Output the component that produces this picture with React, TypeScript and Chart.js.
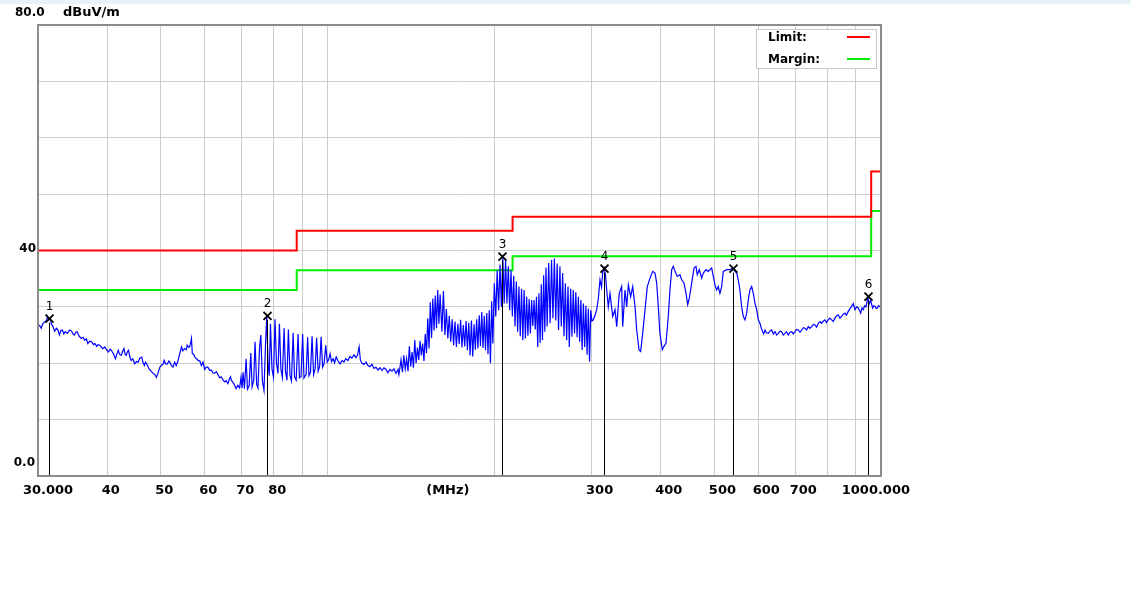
import React, { useEffect, useRef } from 'react';
import { Chart, registerables } from 'chart.js';

Chart.register(...registerables);

// ---- data (MHz / dBuV/m), by sweep segment ----
const freqs30to69 = [
  30.0, 30.2, 30.4, 30.6, 30.8, 31.1, 31.2, 31.4, 31.6, 31.7, 31.9, 32.15, 32.4, 32.6, 32.8, 33.0, 33.2, 33.4, 33.6, 33.9,
  34.2, 34.5, 34.7, 34.9, 35.1, 35.3, 35.6, 35.9, 36.2, 36.4, 36.7, 36.9, 37.2, 37.5, 37.8, 38.0, 38.3, 38.5, 38.8, 39.1,
  39.3, 39.6, 39.9, 40.2, 40.5, 40.7, 41.1, 41.4, 41.7, 41.9, 42.1, 42.4, 42.7, 42.9, 43.1, 43.3, 43.5, 43.7, 44.0, 44.2,
  44.5, 44.85, 45.2, 45.5, 45.8, 46.2, 46.4, 46.7, 46.9, 47.2, 47.5, 47.8, 48.1, 48.4, 48.75, 49.1, 49.4, 49.8, 50.1, 50.5,
  50.7, 51.0, 51.4, 51.7, 51.9, 52.25, 52.6, 52.97, 53.3, 53.7, 54.1, 54.5, 54.8, 55.2, 55.6, 55.8, 56.2, 56.4, 56.6, 56.8,
  57.0, 57.3, 57.6, 58.0, 58.4, 58.8, 59.2, 59.6, 60.0, 60.4, 60.8, 61.3, 61.7, 62.1, 62.5, 63.0, 63.4, 63.9, 64.3, 64.8,
  65.2, 65.6, 66.1, 66.5, 66.8, 67.1, 67.4, 67.9, 68.4, 68.9, 69.4,
];
const levels30to69 = [
  26.6, 26.7, 26.2, 27.0, 27.3, 27.6, 28.3, 27.7, 27.9, 27.0, 26.6, 25.7, 26.2, 25.9, 25.0, 25.8, 25.9, 25.2, 25.6, 25.3,
  25.9, 25.7, 25.2, 25.0, 25.5, 25.6, 24.8, 24.4, 24.6, 24.1, 24.3, 23.5, 23.9, 23.8, 23.3, 23.5, 23.0, 23.3, 23.2, 22.8,
  22.6, 22.9, 22.4, 22.0, 22.5, 22.3, 21.6, 20.8, 21.8, 22.3, 21.6, 21.4, 22.2, 22.6, 21.6, 21.4, 22.0, 22.3, 21.0, 20.5,
  20.8, 19.9, 20.3, 20.2, 20.9, 21.1, 20.2, 19.6, 20.2, 19.8, 19.2, 18.8, 18.5, 18.2, 18.0, 17.5, 18.2, 19.3, 19.6, 19.9,
  20.5, 19.9, 19.9, 20.4, 20.2, 19.6, 19.3, 20.2, 19.6, 20.4, 21.7, 22.9, 22.2, 22.6, 22.4, 23.2, 22.8, 23.0, 23.6, 24.4,
  21.7, 21.6, 21.1, 20.8, 20.5, 20.4, 19.6, 20.2, 18.9, 19.3, 19.3, 18.7, 18.8, 18.3, 18.2, 18.5, 18.0, 17.4, 17.6, 17.0,
  16.7, 16.9, 16.4, 17.2, 17.6, 16.9, 16.7, 16.2, 15.5, 16.1, 15.6,
];

const freqs69to135 = [
  69.8, 70.1, 70.4, 70.8, 71.3, 71.7, 72.2, 72.7, 73.1, 73.6, 74.0, 74.5, 74.9, 75.4, 75.8, 76.3, 76.8, 77.3, 77.7, 78.1,
  78.5, 78.9, 79.4, 79.9, 80.4, 80.9, 81.4, 81.9, 82.4, 82.9, 83.5, 84.0, 84.5, 85.0, 85.6, 86.1, 86.7, 87.2, 87.8, 88.5,
  89.0, 89.6, 90.2, 90.7, 91.5, 92.1, 92.6, 93.2, 93.8, 94.4, 95.0, 95.6, 96.2, 96.8, 97.4, 98.0, 98.6, 99.3, 99.9, 100.5,
  101.1, 101.7, 102.4, 103.0, 103.7, 104.5, 105.4, 106.3, 107.1, 108.0, 108.9, 109.8, 110.7, 111.7, 112.6, 113.3, 114.1, 114.7, 115.5, 116.4,
  117.4, 118.3, 119.3, 120.3, 121.4, 122.4, 123.4, 124.4, 125.5, 126.5, 127.6, 128.6, 129.7, 130.8, 131.9, 133.0, 134.1, 134.6,
];
const levels69to135 = [
  17.5, 15.6, 18.4, 15.5, 20.8, 15.4, 16.0, 21.8, 15.8, 17.0, 23.8, 16.2, 15.6, 22.8, 25.0, 16.8, 15.2, 23.5, 28.3, 20.0,
  17.8, 27.0, 19.0, 17.5, 27.8, 20.0, 18.2, 27.0, 19.0, 17.5, 26.2, 18.5, 17.0, 26.0, 17.8, 16.9, 25.4, 17.6, 17.0, 25.2,
  17.4, 17.6, 25.2, 17.4, 18.0, 24.6, 17.8, 18.4, 24.8, 18.0, 19.0, 24.5, 18.6, 19.4, 24.7, 19.3, 19.9, 23.2, 20.2, 20.6,
  21.7, 20.3, 20.8, 20.1, 21.1, 20.4, 19.9, 20.5, 20.2, 20.8, 20.5, 21.2, 20.9, 21.5, 21.0, 21.4, 22.9, 20.5, 20.0, 19.8,
  20.2, 19.6, 19.4, 19.8, 19.1, 19.3, 18.8, 19.2, 18.7, 19.2, 18.9, 18.3, 18.9, 18.6, 19.0, 18.2, 18.9, 18.0,
];

const freqs135to160 = [
  135.0, 135.8, 136.6, 137.4, 138.2, 139.0, 139.8, 140.6, 141.4, 142.2, 143.0, 143.8, 144.6, 145.4, 146.2, 147.0,
  147.8, 148.6, 149.4, 150.2, 151.0, 151.8, 152.6, 153.4, 154.2, 155.0, 155.8, 156.6, 157.4, 158.2, 159.0, 159.8,
];
const levels135to160 = [
  18.8, 20.6, 18.4, 21.4, 19.0, 20.8, 18.6, 23.0, 19.4, 22.0, 19.2, 24.1, 20.0, 22.8, 20.6, 24.0,
  21.4, 23.5, 20.4, 25.2, 21.8, 28.0, 22.6, 30.8, 24.5, 31.5, 25.8, 32.0, 26.2, 33.0, 27.0, 32.2,
];

const freqs161to199 = [
  161, 162, 163, 164, 165, 166, 167, 168, 169, 170, 171, 172, 173, 174, 175, 176, 177, 178, 179, 180,
  181, 182, 183, 184, 185, 186, 187, 188, 189, 190, 191, 192, 193, 194, 195, 196, 197, 198, 199,
];
const levels161to199 = [
  25.6, 32.8, 25.0, 29.6, 24.4, 28.4, 23.8, 27.8, 23.2, 27.4, 22.9, 27.0, 23.4, 27.7, 22.8, 26.8, 23.0, 27.5, 22.3, 27.2,
  21.4, 27.6, 21.2, 26.9, 22.4, 27.8, 22.6, 28.5, 23.0, 29.1, 22.7, 28.4, 22.3, 28.9, 21.6, 29.4, 20.0, 31.0, 23.5,
];

const freqs200to250 = [
  200.2, 201.4, 202.6, 203.8, 205.0, 206.2, 207.4, 208.6, 209.8, 211.0, 212.2, 213.4, 214.6, 215.8, 217.0, 218.2,
  219.4, 220.6, 221.8, 223.0, 224.2, 225.4, 226.6, 227.8, 229.0, 230.2, 231.4, 232.6, 233.8, 235.0, 236.2, 237.4,
  238.6, 239.8, 241.0, 242.2, 243.4, 244.6, 245.8, 247.0, 248.2, 249.4,
];
const levels200to250 = [
  34.2, 28.3, 36.5, 29.4, 37.5, 30.0, 38.9, 30.6, 38.3, 30.6, 37.2, 29.4, 36.5, 28.3, 35.5, 26.5,
  34.5, 25.6, 33.6, 24.8, 33.2, 24.1, 33.0, 24.4, 31.8, 24.9, 31.4, 25.3, 31.2, 26.6, 31.2, 26.0,
  31.8, 22.9, 32.4, 23.6, 34.0, 24.1, 35.6, 25.6, 37.0, 26.5,
];

const freqs251to300 = [
  251.0, 252.5, 254.0, 255.5, 257.0, 258.5, 260.0, 261.5, 263.0, 264.5, 266.0, 267.5, 269.0, 270.5, 272.0, 273.5, 275.0,
  276.5, 278.0, 279.5, 281.0, 282.5, 284.0, 285.5, 287.0, 288.5, 290.0, 291.5, 293.0, 294.5, 296.0, 297.5, 299.0, 300.5,
];
const levels251to300 = [
  37.8, 27.1, 38.3, 28.0, 38.6, 27.6, 37.7, 25.9, 37.2, 26.5, 36.0, 24.8, 34.2, 24.1, 33.6, 22.9, 33.2,
  24.7, 33.0, 25.3, 32.6, 24.6, 31.8, 23.8, 31.2, 22.35, 30.6, 22.9, 30.2, 21.5, 29.7, 20.3, 29.4, 27.5,
];

const freqs302to318 = [302.2, 304.4, 306.5, 308.6, 310.7, 312.7, 314.3, 316.4, 318.0];
const levels302to318 = [27.7, 28.5, 29.5, 31.5, 34.8, 33.5, 36.2, 36.9, 35.5];

const freqs319to605 = [
  319.5, 321.6, 323.9, 327.6, 330.7, 333.1, 336.6, 340.0, 341.5, 344.8, 347.2, 349.6, 353.0, 356.0, 359.5, 362.0, 365.4, 368.0, 371.1, 374.7,
  378.3, 382.5, 386.9, 390.6, 393.4, 396.0, 398.7, 402.6, 405.5, 408.9, 412.8, 415.7, 418.7, 421.5, 424.5, 428.5, 433.3, 436.4, 440.7, 444.4,
  447.5, 450.4, 455.0, 459.4, 463.2, 465.7, 469.6, 474.3, 477.5, 482.9, 487.5, 490.9, 494.4, 497.8, 501.3, 504.8, 508.2, 511.7, 515.4, 518.9,
  526.3, 533.5, 539.6, 544.8, 548.7, 552.3, 556.1, 560.1, 563.9, 567.9, 571.9, 575.7, 579.7, 583.9, 587.9, 592.1, 596.3, 600.2, 604.4,
];
const levels319to605 = [
  33.0, 30.0, 32.4, 28.3, 29.5, 26.5, 32.4, 33.6, 26.5, 33.0, 30.0, 33.9, 31.8, 33.6, 30.0, 25.9, 22.4, 22.1, 25.3, 29.5,
  33.6, 35.1, 36.3, 36.0, 34.2, 30.0, 25.3, 22.4, 23.0, 23.6, 28.3, 33.0, 36.6, 37.2, 36.3, 35.4, 35.7, 34.8, 34.2, 32.4,
  30.4, 31.5, 34.2, 36.9, 37.2, 35.7, 36.6, 35.1, 36.0, 36.6, 36.3, 36.6, 36.9, 35.4, 33.9, 33.0, 33.6, 32.4, 33.6, 36.3,
  36.6, 36.6, 36.9, 36.3, 36.0, 34.8, 33.0, 30.0, 28.3, 27.7, 28.9, 31.2, 33.0, 33.6, 32.4, 30.6, 29.5, 27.7, 27.1,
];

const freqs608to1000 = [
  608, 611.3, 614, 617.3, 621, 625.8, 630, 634.6, 639, 643.5, 648, 652.3, 657, 661.5, 666, 670.8, 675, 680, 685, 689.6,
  694, 699.3, 704, 708.9, 714, 719, 724, 729, 734, 739, 744, 749.5, 755, 760, 765, 770.3, 776, 781.3, 787, 792.2,
  797, 803, 808, 814.4, 820, 825.7, 831, 837.1, 843, 849, 855, 860.8, 866, 872.6, 878, 885, 891, 897.4, 903, 909.7,
  915, 918.7, 924, 928.8, 934, 939.3, 943, 946, 950, 953, 957.8, 962, 966, 970, 975.4, 980, 985, 990, 996, 1000,
];
const levels608to1000 = [
  26.2, 25.6, 25.2, 25.9, 25.4, 25.3, 25.7, 25.9, 25.2, 25.6, 25.0, 25.3, 25.7, 25.6, 25.0, 25.3, 25.6, 25.0, 25.5, 25.6,
  25.2, 25.6, 26.0, 25.9, 25.5, 25.9, 26.3, 26.2, 25.9, 26.5, 26.2, 26.5, 26.9, 26.8, 26.4, 27.1, 27.4, 27.1, 27.5, 27.7,
  27.2, 27.7, 28.0, 27.7, 27.4, 28.0, 28.4, 28.6, 28.0, 28.3, 28.7, 28.9, 28.5, 29.2, 29.6, 30.1, 30.6, 29.5, 30.0, 29.8,
  29.3, 28.9, 29.8, 29.5, 30.2, 30.0, 30.8, 31.8, 31.0, 30.6, 31.2, 30.4, 29.8, 30.2, 30.1, 29.7, 29.8, 30.2, 30.0, 29.9,
];

const traceFreqs = [
  ...freqs30to69, ...freqs69to135, ...freqs135to160, ...freqs161to199, ...freqs200to250,
  ...freqs251to300, ...freqs302to318, ...freqs319to605, ...freqs608to1000,
];
const traceLevels = [
  ...levels30to69, ...levels69to135, ...levels135to160, ...levels161to199, ...levels200to250,
  ...levels251to300, ...levels302to318, ...levels319to605, ...levels608to1000,
];

const limitFreqs = [30, 88, 88, 216, 216, 960, 960, 1000];
const limitLevels = [40, 40, 43.5, 43.5, 46, 46, 54, 54];
const marginFreqs = [30, 88, 88, 216, 216, 960, 960, 1000];
const marginLevels = [33, 33, 36.5, 36.5, 39, 39, 47, 47];

const markerFreqs = [31.45, 77.7, 207.0, 316.4, 541.0, 946.0];
const markerLevels = [27.9, 28.4, 38.9, 36.8, 36.8, 31.8];
const markerLabels = ['1', '2', '3', '4', '5', '6'];

const gridFreqs = [30, 40, 50, 60, 70, 80, 90, 100, 200, 300, 400, 500, 600, 700, 800, 900, 1000];
const gridLevels = [0, 10, 20, 30, 40, 50, 60, 70, 80];
const xTickValues = [30, 40, 50, 60, 70, 80, 300, 400, 500, 600, 700, 1000];
const xTickLabels = ['30.000', '40', '50', '60', '70', '80', '300', '400', '500', '600', '700', '1000.000'];
const xUnitFreq = 165;
const xUnitLabel = '(MHz)';
const yTickValues = [80, 40, 0];
const yTickLabels = ['80.0', '40', '0.0'];
const yUnitLabel = 'dBuV/m';
const legendNames = ['Limit:', 'Margin:'];

const FONT = '"DejaVu Sans", sans-serif';
const LIMIT_COLOR = '#ff0000';
const MARGIN_COLOR = '#00ee00';

const overlayPlugin = {
  id: 'overlay',
  beforeDraw(chart: any) {
    const ctx = chart.ctx;
    ctx.save();
    ctx.fillStyle = '#ffffff';
    ctx.fillRect(0, 0, chart.width, chart.height);
    ctx.fillStyle = '#e6f4f8';
    ctx.fillRect(0, 0, chart.width, 4);
    ctx.restore();
  },
  afterDatasetsDraw(chart: any) {
    const { ctx, chartArea: a, scales } = chart;
    const xs = scales.x;
    const ys = scales.y;
    ctx.save();

    // markers
    markerFreqs.forEach((f, i) => {
      const px = Math.round(xs.getPixelForValue(f)) + 0.5;
      const py = ys.getPixelForValue(markerLevels[i]);
      ctx.strokeStyle = '#000';
      ctx.lineWidth = 1;
      ctx.beginPath();
      ctx.moveTo(px, py + 4);
      ctx.lineTo(px, a.bottom);
      ctx.stroke();
      ctx.lineWidth = 1.8;
      ctx.beginPath();
      ctx.moveTo(px - 4, py - 4);
      ctx.lineTo(px + 4, py + 4);
      ctx.moveTo(px + 4, py - 4);
      ctx.lineTo(px - 4, py + 4);
      ctx.stroke();
      ctx.fillStyle = '#000';
      ctx.font = `12px ${FONT}`;
      ctx.textAlign = 'center';
      ctx.textBaseline = 'middle';
      ctx.fillText(markerLabels[i], px, py - 12);
    });

    // legend box
    const lx = a.right - 125;
    const ly = a.top + 4;
    ctx.fillStyle = '#ffffff';
    ctx.fillRect(lx, ly, 120, 39);
    ctx.strokeStyle = '#c8c8c8';
    ctx.lineWidth = 1;
    ctx.strokeRect(lx + 0.5, ly + 0.5, 120, 39);
    ctx.fillStyle = '#000';
    ctx.font = `bold 12px ${FONT}`;
    ctx.textAlign = 'left';
    ctx.textBaseline = 'middle';
    ctx.fillText(legendNames[0], a.right - 113, a.top + 12.5);
    ctx.fillText(legendNames[1], a.right - 113, a.top + 34.5);
    ctx.lineWidth = 2;
    ctx.strokeStyle = LIMIT_COLOR;
    ctx.beginPath();
    ctx.moveTo(a.right - 34, a.top + 12);
    ctx.lineTo(a.right - 11, a.top + 12);
    ctx.stroke();
    ctx.strokeStyle = MARGIN_COLOR;
    ctx.beginPath();
    ctx.moveTo(a.right - 34, a.top + 34);
    ctx.lineTo(a.right - 11, a.top + 34);
    ctx.stroke();

    // frame
    ctx.strokeStyle = '#8c8c8c';
    ctx.lineWidth = 2;
    ctx.strokeRect(a.left, a.top, a.right - a.left, a.bottom - a.top);

    // y labels
    ctx.fillStyle = '#000';
    ctx.font = `bold 12px ${FONT}`;
    ctx.textBaseline = 'middle';
    yTickValues.forEach((v, i) => {
      const py = ys.getPixelForValue(v);
      if (i === 0) {
        ctx.textAlign = 'left';
        ctx.fillText(yTickLabels[i], 15, py - 12);
        ctx.font = `bold 13px ${FONT}`;
        ctx.fillText(yUnitLabel, 63, py - 12);
        ctx.font = `bold 12px ${FONT}`;
      } else if (i === yTickValues.length - 1) {
        ctx.textAlign = 'right';
        ctx.fillText(yTickLabels[i], a.left - 3, py - 13);
      } else {
        ctx.textAlign = 'right';
        ctx.fillText(yTickLabels[i], a.left - 2, py - 1.5);
      }
    });

    // x labels
    ctx.font = `bold 13px ${FONT}`;
    const ty = a.bottom + 14.5;
    xTickValues.forEach((v, i) => {
      const px = xs.getPixelForValue(v);
      if (i === 0) {
        ctx.textAlign = 'center';
        ctx.fillText(xTickLabels[i], px + 10, ty);
      } else if (i === xTickValues.length - 1) {
        ctx.textAlign = 'right';
        ctx.fillText(xTickLabels[i], px + 29, ty);
      } else {
        ctx.textAlign = 'left';
        ctx.fillText(xTickLabels[i], px - 5.5, ty);
      }
    });
    ctx.textAlign = 'center';
    ctx.fillText(xUnitLabel, xs.getPixelForValue(xUnitFreq), ty);

    ctx.restore();
  },
};

export default function App() {
  const canvasRef = useRef<HTMLCanvasElement | null>(null);

  useEffect(() => {
    const canvas = canvasRef.current;
    if (!canvas) return;
    const toPoints = (xs: number[], ys: number[]) => xs.map((x, i) => ({ x, y: ys[i] }));
    const chart = new Chart(canvas, {
      type: 'line',
      data: {
        datasets: [
          {
            label: 'Trace',
            data: toPoints(traceFreqs, traceLevels),
            borderColor: '#0000ff',
            borderWidth: 1.2,
            pointRadius: 0,
            tension: 0,
            order: 0,
          },
          {
            label: 'Limit',
            data: toPoints(limitFreqs, limitLevels),
            borderColor: LIMIT_COLOR,
            borderWidth: 2,
            pointRadius: 0,
            tension: 0,
            order: 1,
          },
          {
            label: 'Margin',
            data: toPoints(marginFreqs, marginLevels),
            borderColor: MARGIN_COLOR,
            borderWidth: 2,
            pointRadius: 0,
            tension: 0,
            order: 2,
          },
        ],
      },
      options: {
        responsive: false,
        animation: false,
        events: [],
        layout: { padding: { left: 0, top: 25, right: 250, bottom: 140 } },
        plugins: { legend: { display: false }, tooltip: { enabled: false } },
        scales: {
          x: {
            type: 'logarithmic',
            min: 30,
            max: 1000,
            afterBuildTicks: (s: any) => {
              s.ticks = gridFreqs.map((v) => ({ value: v }));
            },
            afterFit: (s: any) => {
              s.height = 0;
            },
            ticks: { display: false },
            grid: { color: '#cccccc', lineWidth: 1, drawTicks: false },
            border: { display: false },
          },
          y: {
            type: 'linear',
            min: 0,
            max: 80,
            afterBuildTicks: (s: any) => {
              s.ticks = gridLevels.map((v) => ({ value: v }));
            },
            afterFit: (s: any) => {
              s.width = 38;
            },
            ticks: { display: false },
            grid: { color: '#cccccc', lineWidth: 1, drawTicks: false },
            border: { display: false },
          },
        },
      },
      plugins: [overlayPlugin],
    } as any);
    return () => chart.destroy();
  }, []);

  return (
    <div style={{ position: 'absolute', left: 0, top: 0, width: 1131, height: 616, background: '#fff' }}>
      <canvas ref={canvasRef} width={1131} height={616} style={{ display: 'block' }} />
    </div>
  );
}
